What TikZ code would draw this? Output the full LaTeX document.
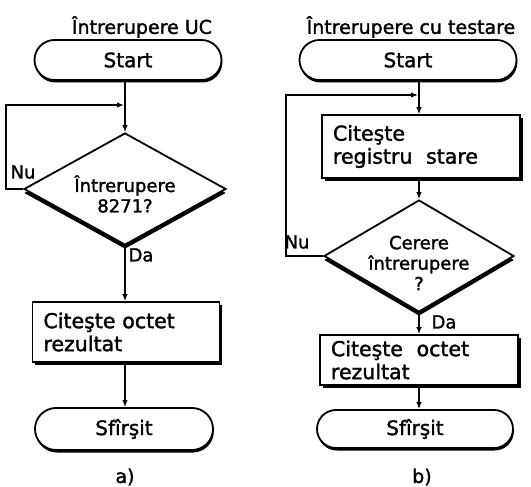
\documentclass[tikz,border=0pt]{standalone}
\usepackage{fontspec}
\setmainfont{DejaVu Sans}[FakeBold=1.6]
\usetikzlibrary{shapes.geometric,shadows,arrows.meta}
\begin{document}
\begin{tikzpicture}[x=1pt,y=-1pt,
  outline/.style={draw=black,line width=1.8pt,fill=white},
  term/.style={outline,rectangle,rounded corners=20pt,inner sep=0pt,
    font=\fontsize{20}{22}\selectfont,
    drop shadow={shadow xshift=0.8pt,shadow yshift=-2.5pt,fill=black,opacity=1}},
  procbox/.style={outline,rectangle,inner xsep=11pt,inner ysep=0pt,align=left,
    font=\fontsize{20.5}{23}\selectfont,
    drop shadow={shadow xshift=2.8pt,shadow yshift=-3pt,fill=black,opacity=1}},
  decbox/.style={outline,diamond,inner sep=0pt,
    drop shadow={shadow xshift=0pt,shadow yshift=-4pt,fill=black,opacity=1}},
  dectext/.style={align=center,inner sep=0pt,font=\fontsize{18}{20.5}\selectfont},
  ttl/.style={inner sep=0pt,font=\fontsize{19}{22}\selectfont},
  lab/.style={inner sep=0pt,font=\fontsize{18}{20}\selectfont},
  conn/.style={line width=1.3pt,-{Latex[length=7pt,width=5.5pt]}},
]
\useasboundingbox (0,0) rectangle (531,487);

% ---------- a) ----------
\node[ttl] (t1) at (142,27) {Întrerupere UC};
\node[term,minimum width=187pt,minimum height=40pt] (s1) at (128,60) {Start};
\node[decbox,minimum width=202pt,minimum height=112pt] (d1) at (125,189) {};
\node[dectext] (d1t) at (125,194) {Întrerupere\\8271?};
\node[procbox,text width=165pt,minimum height=60pt] (p1) at (126,332) {Citeşte octet\\rezultat};
\node[term,minimum width=178pt,minimum height=42pt,rounded corners=21pt] (e1) at (124,429) {Sfîrşit};
\node[lab,font=\fontsize{19}{22}\selectfont] (la) at (125,477) {a)};

\coordinate (c1) at (125,105);
\draw[conn] (s1.south -| d1.north) -- (d1.north);
\draw[conn] (d1.west) -- ++(-17,0) |- ([xshift=-1pt]c1);
\draw[conn] (d1.south) -- (d1.south |- p1.north);
\draw[conn] (p1.south -| d1.south) -- (e1.north -| d1.south);
\node[lab] (nu1) at (23,172) {Nu};
\node[lab] (da1) at (141,255) {Da};

% ---------- b) ----------
\node[ttl] (t2) at (411,27) {Întrerupere cu testare};
\node[term,minimum width=217pt,minimum height=40pt] (s2) at (408,60) {Start};
\node[procbox,text width=176pt,minimum height=63pt] (p2) at (421,146.5) {Citeşte\\registru\ \ stare};
\node[decbox,minimum width=190pt,minimum height=112pt] (d2) at (419,256) {};
\node[dectext] (d2t) at (419,263) {Cerere\\întrerupere\\?};
\node[procbox,text width=176pt,minimum height=50pt] (p3) at (419,360) {Citeşte\ \ octet\\rezultat};
\node[term,minimum width=196pt,minimum height=38pt,rounded corners=19pt] (e2) at (415,429) {Sfîrşit};
\node[lab,font=\fontsize{19}{22}\selectfont] (lb) at (422,477) {b)};

\coordinate (c2) at (419,95);
\draw[conn] (s2.south -| c2) -- (p2.north -| c2);
\draw[conn] (p2.south -| c2) -- (d2.north);
\draw[conn] (d2.west) -- ++(-37,0) |- ([xshift=-1pt]c2);
\draw[conn] (d2.south) -- (p3.north -| d2.south);
\draw[conn] (p3.south -| d2.south) -- (e2.north -| d2.south);
\node[lab] (nu2) at (297,242) {Nu};
\node[lab] (da2) at (444,322) {Da};
\end{tikzpicture}
\end{document}
